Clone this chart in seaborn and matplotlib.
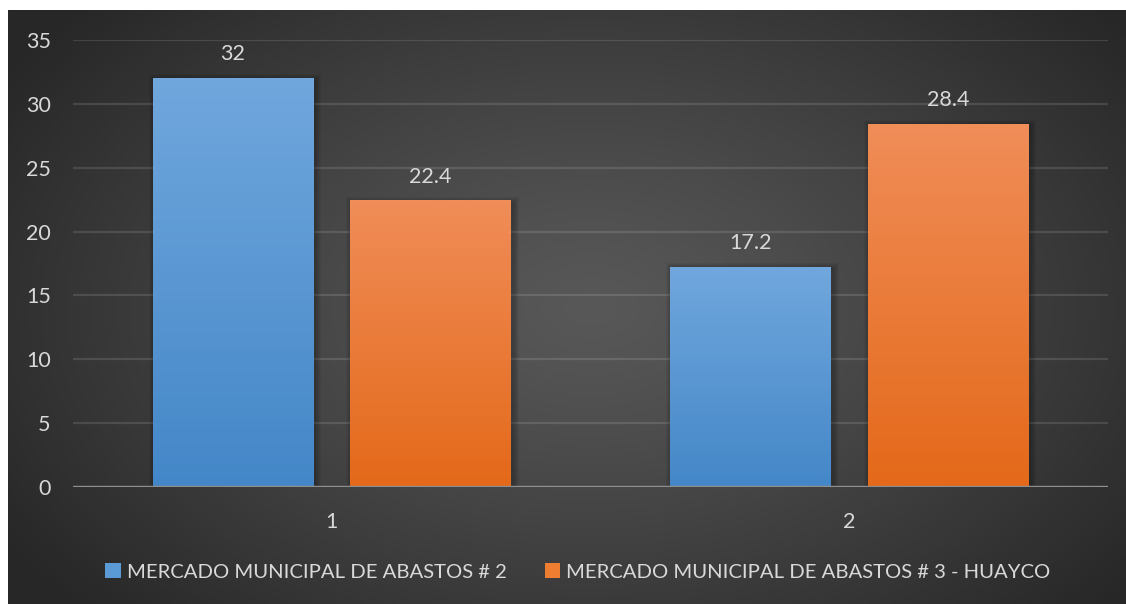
import numpy as np
import pandas as pd
import matplotlib
matplotlib.use("Agg")
import matplotlib.pyplot as plt
from matplotlib.patches import Patch, Rectangle
from matplotlib.colors import to_rgb
import seaborn as sns

# Data
categories = ["1", "2"]
series_names = ["MERCADO MUNICIPAL DE ABASTOS # 2",
                "MERCADO MUNICIPAL DE ABASTOS # 3 - HUAYCO"]
mercado_2 = [32, 17.2]
mercado_3 = [22.4, 28.4]
y_ticks = [0, 5, 10, 15, 20, 25, 30, 35]

# Gradient colours (top, bottom) for each series
grad_colors = {
    series_names[0]: ("#70a7dd", "#4487c8"),
    series_names[1]: ("#f08d58", "#e4691a"),
}
legend_colors = ["#5b9bd5", "#ed7d31"]
text_color = "#d9d9d9"

df = pd.DataFrame({
    "cat": categories * 2,
    "val": mercado_2 + mercado_3,
    "serie": [series_names[0]] * 2 + [series_names[1]] * 2,
})

sns.set_theme(style="dark")
plt.rcParams["font.family"] = ["Lato", "DejaVu Sans"]

W, H = 1126, 604
fig = plt.figure(figsize=(W / 100, H / 100), dpi=100, facecolor="white")

# Dark radial-gradient backdrop (white strip on top and left)
bg = fig.add_axes([8 / W, 0, (W - 8) / W, (H - 10) / H], zorder=0)
ny, nx = 300, 560
yy, xx = np.mgrid[0:ny, 0:nx]
r = np.sqrt(((xx - nx * 0.52) / (nx * 0.62)) ** 2 + ((yy - ny * 0.50) / (ny * 0.75)) ** 2)
r = np.clip(r, 0, 1) ** 1.2
c_in, c_out = np.array(to_rgb("#585858")), np.array(to_rgb("#272727"))
img = c_in[None, None, :] * (1 - r[..., None]) + c_out[None, None, :] * r[..., None]
bg.imshow(img, aspect="auto", extent=[0, 1, 0, 1], interpolation="bilinear")
bg.set_axis_off()

ax = fig.add_axes([73 / W, 117 / H, (1108 - 73) / W, (487 - 40) / H], zorder=1)
ax.patch.set_alpha(0)

sns.barplot(data=df, x="cat", y="val", hue="serie", hue_order=series_names,
            palette=legend_colors, width=0.763, gap=0.185, ax=ax,
            legend=False, errorbar=None, saturation=1)

ax.set_ylim(0, 35)
ax.set_yticks(y_ticks)
ax.set_xlim(-0.5, 1.5)
xlim, ylim = ax.get_xlim(), ax.get_ylim()

# px -> data scale for soft shadow
px_x = (xlim[1] - xlim[0]) / (1108 - 73)
px_y = (ylim[1] - ylim[0]) / (487 - 40)

for container, name in zip(ax.containers, series_names):
    top, bot = (np.array(to_rgb(c)) for c in grad_colors[name])
    t = np.linspace(0, 1, 64)[:, None]
    grad = (top * (1 - t) + bot * t)[:, None, :]
    for bar in container:
        x0, w, h = bar.get_x(), bar.get_width(), bar.get_height()
        bar.set_facecolor("none")
        bar.set_edgecolor("none")
        # soft outer shadow
        for k in range(1, 7):
            ax.add_patch(Rectangle((x0 - k * px_x + 2 * px_x, 0),
                                   w + 2 * k * px_x, h + k * px_y - 2 * px_y,
                                   facecolor="black", edgecolor="none",
                                   alpha=0.045, zorder=2))
        ax.imshow(grad, extent=[x0, x0 + w, 0, h], aspect="auto",
                  interpolation="bilinear", zorder=3)
    labels = [f"{v:g}" for v in container.datavalues]
    ax.bar_label(container, labels=labels, padding=10, color=text_color,
                 fontsize=15.5)

ax.set_xlim(xlim)
ax.set_ylim(ylim)

ax.grid(axis="y", color="white", alpha=0.12, linewidth=1.6, zorder=1)
ax.set_axisbelow(True)
ax.axhline(0, color="#8f8f8f", linewidth=2.4, zorder=4)
for s in ax.spines.values():
    s.set_visible(False)
ax.tick_params(axis="both", length=0, colors=text_color, labelsize=15.5)
ax.tick_params(axis="y", pad=16)
ax.tick_params(axis="x", pad=18)
ax.set_xlabel("")
ax.set_ylabel("")

handles = [Patch(facecolor=c, edgecolor="none") for c in legend_colors]
fig.legend(handles, series_names, loc="center", bbox_to_anchor=(578 / W, 1 - 572 / H),
           ncol=2, frameon=False, fontsize=14.6, labelcolor=text_color,
           handlelength=0.75, handleheight=0.75, handletextpad=0.3, columnspacing=1.9)

fig.savefig("out.png", dpi=100, facecolor=fig.get_facecolor())
